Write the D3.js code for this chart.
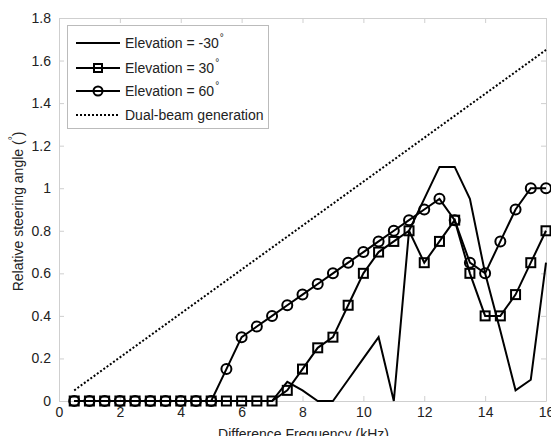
<!DOCTYPE html>
<html>
<head>
<meta charset="utf-8">
<script src="https://cdn.jsdelivr.net/npm/d3@7"></script>
<style>
  body { margin: 0; background: #fff; }
  svg { display: block; font-family: Arial, "Liberation Sans", sans-serif; }
</style>
</head>
<body>
<svg width="551" height="436"></svg>
<script>
// frequency points (kHz)
const freqs = [0.5, 1, 1.5, 2, 2.5, 3, 3.5, 4, 4.5, 5, 5.5, 6, 6.5, 7, 7.5, 8,
  8.5, 9, 9.5, 10, 10.5, 11, 11.5, 12, 12.5, 13, 13.5, 14, 14.5, 15, 15.5, 16];

// steering angle for each elevation
const elevMinus30 = [0, 0, 0, 0, 0, 0, 0, 0, 0, 0, 0, 0, 0, 0, 0.09, 0.05,
  0, 0, 0.1, 0.2, 0.3, 0, 0.8, 0.95, 1.1, 1.1, 0.95, 0.6, 0.33, 0.05, 0.1, 0.65];
const elev30 = [0, 0, 0, 0, 0, 0, 0, 0, 0, 0, 0, 0, 0, 0, 0.05, 0.15,
  0.25, 0.3, 0.45, 0.6, 0.7, 0.75, 0.8, 0.65, 0.75, 0.85, 0.6, 0.4, 0.4, 0.5, 0.65, 0.8];
const elev60 = [0, 0, 0, 0, 0, 0, 0, 0, 0, 0, 0.15, 0.3, 0.35, 0.4, 0.45, 0.5,
  0.55, 0.6, 0.65, 0.7, 0.75, 0.8, 0.85, 0.9, 0.95, 0.85, 0.65, 0.6, 0.75, 0.9, 1.0, 1.0];

// dual-beam generation (straight line)
const dualFreqs = [0.5, 16];
const dualValues = [0.05, 1.65];

const xTicks = [0, 2, 4, 6, 8, 10, 12, 14, 16];
const yTicks = [0, 0.2, 0.4, 0.6, 0.8, 1, 1.2, 1.4, 1.6, 1.8];

const svg = d3.select("svg");
const margin = { top: 18, right: 5, bottom: 35, left: 59 };
const width = 546 - margin.left;
const height = 401 - margin.top;

const x = d3.scaleLinear().domain([0, 16]).range([0, width]);
const y = d3.scaleLinear().domain([0, 1.8]).range([height, 0]);

const g = svg.append("g").attr("transform", `translate(${margin.left},${margin.top})`);

const axisColor = "#cfcfcf";

// axes with inward ticks
function styleAxis(sel) {
  sel.select(".domain").attr("stroke", axisColor);
  sel.selectAll(".tick line").attr("stroke", axisColor);
  sel.selectAll(".tick text")
    .attr("fill", "#222")
    .attr("font-size", 14)
    .attr("font-family", "Arial, 'Liberation Sans', sans-serif");
}

g.append("g")
  .attr("transform", `translate(0,${height})`)
  .call(d3.axisBottom(x).tickValues(xTicks).tickFormat(d3.format("d"))
    .tickSize(-5).tickSizeOuter(0).tickPadding(6))
  .call(styleAxis);

g.append("g")
  .call(d3.axisLeft(y).tickValues(yTicks).tickFormat(d => d === 0 || d === 1 ? d : d.toFixed(1))
    .tickSize(-5).tickSizeOuter(0).tickPadding(8))
  .call(styleAxis);

g.append("g")
  .call(d3.axisTop(x).tickValues(xTicks).tickFormat("").tickSize(-5).tickSizeOuter(0))
  .call(styleAxis);

g.append("g")
  .attr("transform", `translate(${width},0)`)
  .call(d3.axisRight(y).tickValues(yTicks).tickFormat("").tickSize(-5).tickSizeOuter(0))
  .call(styleAxis);

// axis titles
svg.append("text")
  .attr("x", margin.left + width / 2 + 1)
  .attr("y", 439)
  .attr("text-anchor", "middle")
  .attr("font-size", 14)
  .attr("fill", "#222")
  .text("Difference Frequency (kHz)");

const yTitle = svg.append("text")
  .attr("transform", `translate(23,${margin.top + height / 2 + 2}) rotate(-90)`)
  .attr("text-anchor", "middle")
  .attr("font-size", 14)
  .attr("fill", "#222");
yTitle.append("tspan").text("Relative steering angle (");
yTitle.append("tspan").attr("font-size", 10).attr("dy", -7).text("°");
yTitle.append("tspan").attr("dy", 7).text(")");

// series
const line = d3.line()
  .x(d => x(d[0]))
  .y(d => y(d[1]));

function drawSeries(values, marker) {
  const pts = freqs.map((f, i) => [f, values[i]]);
  g.append("path")
    .datum(pts)
    .attr("fill", "none")
    .attr("stroke", "#000")
    .attr("stroke-width", 2)
    .attr("stroke-linejoin", "miter")
    .attr("d", line);
  if (marker === "square") {
    g.selectAll(null)
      .data(pts)
      .join("rect")
      .attr("x", d => x(d[0]) - 4.5)
      .attr("y", d => y(d[1]) - 4.5)
      .attr("width", 9)
      .attr("height", 9)
      .attr("fill", "none")
      .attr("stroke", "#000")
      .attr("stroke-width", 2);
  } else if (marker === "circle") {
    g.selectAll(null)
      .data(pts)
      .join("circle")
      .attr("cx", d => x(d[0]))
      .attr("cy", d => y(d[1]))
      .attr("r", 5)
      .attr("fill", "none")
      .attr("stroke", "#000")
      .attr("stroke-width", 2);
  }
}

drawSeries(elevMinus30, null);
drawSeries(elev30, "square");
drawSeries(elev60, "circle");

g.append("path")
  .datum(dualFreqs.map((f, i) => [f, dualValues[i]]))
  .attr("fill", "none")
  .attr("stroke", "#000")
  .attr("stroke-width", 2)
  .attr("stroke-dasharray", "2,2")
  .attr("d", line);

// legend
const legend = svg.append("g");
legend.append("rect")
  .attr("x", 67.5)
  .attr("y", 25.5)
  .attr("width", 201)
  .attr("height", 103)
  .attr("fill", "#fff")
  .attr("stroke", "#bbb")
  .attr("stroke-width", 1);

const legendItems = [
  { label: "-30", marker: null, dash: null },
  { label: "30", marker: "square", dash: null },
  { label: "60", marker: "circle", dash: null },
  { label: "Dual-beam generation", marker: null, dash: "2,2" }
];
const legendY = [43, 68, 91, 115];

legendItems.forEach((item, i) => {
  const ly = legendY[i];
  legend.append("line")
    .attr("x1", 76).attr("x2", 120)
    .attr("y1", ly).attr("y2", ly)
    .attr("stroke", "#000")
    .attr("stroke-width", 2)
    .attr("stroke-dasharray", item.dash);
  if (item.marker === "square") {
    legend.append("rect")
      .attr("x", 94).attr("y", ly - 4)
      .attr("width", 8).attr("height", 8)
      .attr("fill", "none").attr("stroke", "#000").attr("stroke-width", 2);
  } else if (item.marker === "circle") {
    legend.append("circle")
      .attr("cx", 98).attr("cy", ly).attr("r", 4.5)
      .attr("fill", "none").attr("stroke", "#000").attr("stroke-width", 2);
  }
  const t = legend.append("text")
    .attr("x", 125)
    .attr("y", ly + 5)
    .attr("font-size", 14)
    .attr("fill", "#222");
  if (item.dash) {
    t.text(item.label);
  } else {
    t.append("tspan").text("Elevation = " + item.label);
    t.append("tspan").attr("font-size", 10).attr("dy", -7).attr("dx", 1).text("°");
  }
});
</script>
</body>
</html>
